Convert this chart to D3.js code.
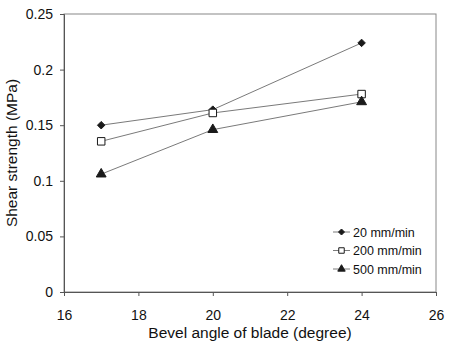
<!DOCTYPE html>
<html>
<head>
<meta charset="utf-8">
<script src="https://cdn.jsdelivr.net/npm/d3@7"></script>
<style>
  body { margin: 0; background: #fff; }
  text { font-family: "Liberation Sans", Arial, sans-serif; fill: #111; }
</style>
</head>
<body>
<div id="chart"></div>
<script>
// Data
const angles = [17, 20, 24];
const speed20 = [0.150, 0.164, 0.224];
const speed200 = [0.1355, 0.161, 0.178];
const speed500 = [0.106, 0.146, 0.171];
const seriesNames = ['20 mm/min', '200 mm/min', '500 mm/min'];
const xTicks = [16, 18, 20, 22, 24, 26];
const yTicks = [0, 0.05, 0.1, 0.15, 0.2, 0.25];

const W = 450, H = 351;
const margin = { top: 14, right: 14, bottom: 59, left: 64 };
const width = W - margin.left - margin.right;
const height = H - margin.top - margin.bottom;

const svg = d3.select('#chart').append('svg')
    .attr('width', W).attr('height', H);
const g = svg.append('g')
    .attr('transform', `translate(${margin.left},${margin.top})`);

const x = d3.scaleLinear().domain([16, 26]).range([0, width]);
const y = d3.scaleLinear().domain([0, 0.25]).range([height, 0]);

// plot frame
g.append('rect')
    .attr('width', width).attr('height', height)
    .attr('fill', 'none').attr('stroke', '#888').attr('stroke-width', 1);

// axes
const xAxis = g.append('g')
    .attr('transform', `translate(0,${height})`)
    .call(d3.axisBottom(x).tickValues(xTicks).tickSize(4).tickPadding(14).tickFormat(d3.format('d')));
const yAxis = g.append('g')
    .call(d3.axisLeft(y).tickValues(yTicks).tickSize(4).tickPadding(7).tickFormat(d => d === 0 ? '0' : String(d)));
[xAxis, yAxis].forEach(a => {
    a.select('.domain').attr('stroke', '#555');
    a.selectAll('.tick line').attr('stroke', '#555');
    a.selectAll('.tick text').style('font-size', '14px').attr('fill', '#111');
});

// axis titles
svg.append('text')
    .attr('x', 250)
    .attr('y', 338)
    .attr('text-anchor', 'middle')
    .style('font-size', '15.5px')
    .text('Bevel angle of blade (degree)');
svg.append('text')
    .attr('transform', `translate(17,153) rotate(-90)`)
    .attr('text-anchor', 'middle')
    .style('font-size', '15.5px')
    .text('Shear strength (MPa)');

// series
const diamond = { draw(ctx, size) { const r = Math.sqrt(size) / 2; ctx.moveTo(0, -r); ctx.lineTo(r, 0); ctx.lineTo(0, r); ctx.lineTo(-r, 0); ctx.closePath(); } };
const series = [
    { name: seriesNames[0], values: speed20, shape: diamond, size: 56, lsize: 36, fill: '#1a1a1a' },
    { name: seriesNames[1], values: speed200, shape: d3.symbolSquare, size: 56, lsize: 30, fill: '#fff' },
    { name: seriesNames[2], values: speed500, shape: d3.symbolTriangle, size: 42, lsize: 24, fill: '#1a1a1a' }
];

const line = d3.line()
    .x((d, i) => x(angles[i]))
    .y(d => y(d));

series.forEach(s => {
    g.append('path')
        .datum(s.values)
        .attr('fill', 'none')
        .attr('stroke', '#7a7a7a')
        .attr('stroke-width', 1)
        .attr('d', line);
});

series.forEach(s => {
    g.selectAll(null)
        .data(s.values)
        .enter()
        .append('path')
        .attr('transform', (d, i) => `translate(${x(angles[i])},${y(d)})`)
        .attr('d', d3.symbol().type(s.shape).size(s.size))
        .attr('fill', s.fill)
        .attr('stroke', '#1a1a1a')
        .attr('stroke-width', 1);
});

// legend
const legend = svg.append('g').attr('transform', 'translate(333,232)');
series.forEach((s, i) => {
    const row = legend.append('g').attr('transform', `translate(0,${i * 18.5})`);
    row.append('line')
        .attr('x1', 0).attr('x2', 17)
        .attr('stroke', '#7a7a7a');
    row.append('path')
        .attr('transform', 'translate(8.5,0)')
        .attr('d', d3.symbol().type(s.shape).size(s.lsize))
        .attr('fill', s.fill)
        .attr('stroke', '#1a1a1a');
    row.append('text')
        .attr('x', 20).attr('y', 4.5)
        .style('font-size', '12.5px')
        .attr('fill', '#222')
        .text(s.name);
});
</script>
</body>
</html>
